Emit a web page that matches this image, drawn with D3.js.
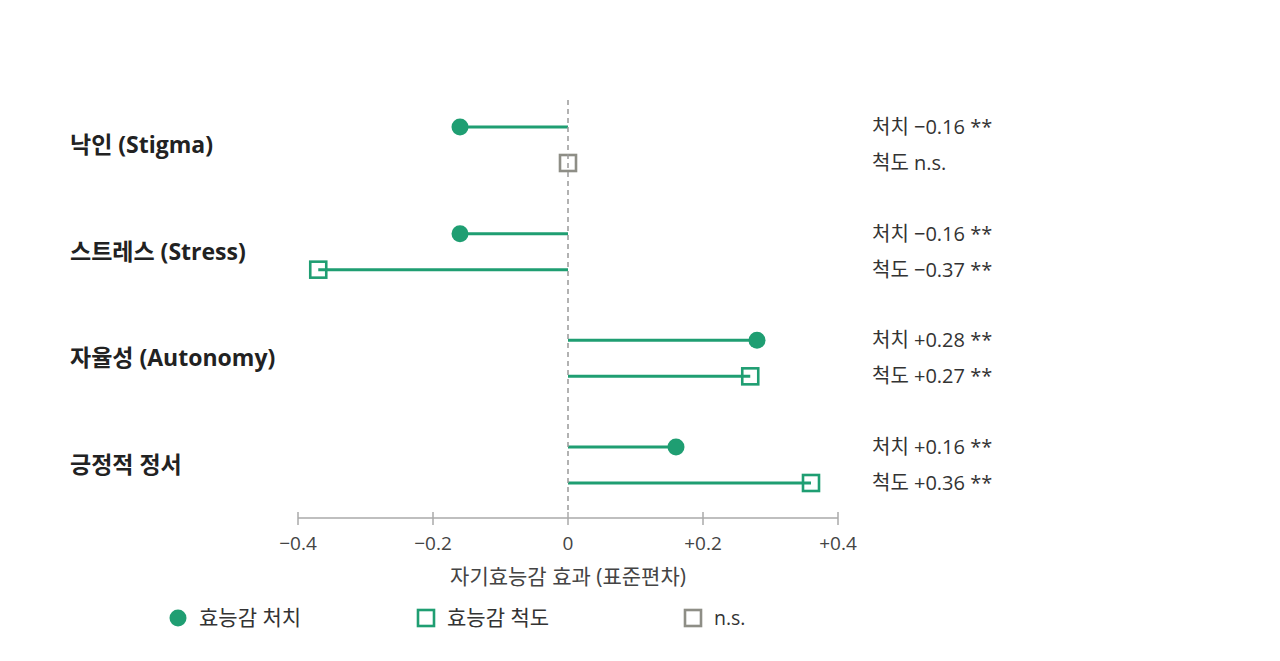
<!DOCTYPE html>
<html><head><meta charset="utf-8">
<script src="https://cdn.jsdelivr.net/npm/d3@7/dist/d3.min.js"></script>
<style>
body{margin:0;background:#fff;}
svg{display:block;font-family:"Open Sans","Noto Sans CJK KR",sans-serif;}
</style></head>
<body>
<svg id="c" width="1280" height="661"></svg>
<script>
const groups = ["낙인 (Stigma)", "스트레스 (Stress)", "자율성 (Autonomy)", "긍정적 정서"];
const treatmentValues = [-0.16, -0.16, 0.28, 0.16];
const scaleValues = [0, -0.37, 0.27, 0.36];
const scaleSignificant = [false, true, true, true];
const treatmentLabels = ["처치 −0.16 **", "처치 −0.16 **", "처치 +0.28 **", "처치 +0.16 **"];
const scaleLabels = ["척도 n.s.", "척도 −0.37 **", "척도 +0.27 **", "척도 +0.36 **"];
const tickValues = [-0.4, -0.2, 0, 0.2, 0.4];
const tickLabels = ["−0.4", "−0.2", "0", "+0.2", "+0.4"];
const axisTitle = "자기효능감 효과 (표준편차)";
const legendItems = ["효능감 처치", "효능감 척도", "n.s."];

const GREEN = "#1f9e72", GRAY = "#8e8e86";
const svg = d3.select("#c");
const x = d3.scaleLinear().domain([-0.4, 0.4]).range([298, 838]);
const y = d3.scalePoint().domain(groups).range([145, 465]);
const off = 18;

// group labels
svg.selectAll("text.g").data(groups).join("text")
  .attr("x", 70).attr("y", d => y(d)).attr("dy", "0.35em")
  .attr("font-size", 23).attr("font-weight", 700).attr("fill", "#222").text(d => d);

// axis
const axisY = 518;
svg.append("line").attr("x1", x(-0.4)).attr("x2", x(0.4)).attr("y1", axisY).attr("y2", axisY)
  .attr("stroke", "#aaa").attr("stroke-width", 1.5);
svg.selectAll("line.tk").data(tickValues).join("line")
  .attr("x1", d => x(d)).attr("x2", d => x(d)).attr("y1", axisY - 6).attr("y2", axisY + 7)
  .attr("stroke", "#aaa").attr("stroke-width", 1.5);
svg.selectAll("text.tl").data(tickValues).join("text")
  .attr("x", d => x(d)).attr("y", 550).attr("text-anchor", "middle")
  .attr("font-size", 19).attr("fill", "#444").text((d, i) => tickLabels[i]);
svg.append("text").attr("x", x(0)).attr("y", 584).attr("text-anchor", "middle")
  .attr("font-size", 21).attr("fill", "#444").text(axisTitle);

// rows
groups.forEach((g, i) => {
  const yt = y(g) - off, ys = y(g) + off;
  const sc = scaleSignificant[i] ? GREEN : GRAY;
  svg.append("rect").attr("x", x(scaleValues[i]) - 8).attr("y", ys - 8).attr("width", 16).attr("height", 16)
    .attr("fill", "#fff").attr("stroke", sc).attr("stroke-width", 2.6);
  svg.append("line").attr("x1", x(0)).attr("x2", x(treatmentValues[i])).attr("y1", yt).attr("y2", yt)
    .attr("stroke", GREEN).attr("stroke-width", 3);
  svg.append("line").attr("x1", x(0)).attr("x2", x(scaleValues[i])).attr("y1", ys).attr("y2", ys)
    .attr("stroke", sc).attr("stroke-width", 3);
  svg.append("circle").attr("cx", x(treatmentValues[i])).attr("cy", yt).attr("r", 8.5).attr("fill", GREEN);
  svg.append("text").attr("x", 872).attr("y", yt).attr("dy", "0.35em").attr("font-size", 20).attr("fill", "#333").text(treatmentLabels[i]);
  svg.append("text").attr("x", 872).attr("y", ys).attr("dy", "0.35em").attr("font-size", 20).attr("fill", "#333").text(scaleLabels[i]);
});

// zero reference line
svg.append("line").attr("x1", x(0)).attr("x2", x(0)).attr("y1", 100).attr("y2", 512)
  .attr("stroke", "#999").attr("stroke-width", 1.5).attr("stroke-dasharray", "5,4");

// legend
const ly = 618;
svg.append("circle").attr("cx", 178).attr("cy", ly).attr("r", 8.5).attr("fill", GREEN);
svg.append("text").attr("x", 199).attr("y", ly).attr("dy", "0.35em").attr("font-size", 21).attr("fill", "#333").text(legendItems[0]);
svg.append("rect").attr("x", 418).attr("y", ly - 8).attr("width", 16).attr("height", 16).attr("fill", "#fff").attr("stroke", GREEN).attr("stroke-width", 2.6);
svg.append("text").attr("x", 447).attr("y", ly).attr("dy", "0.35em").attr("font-size", 21).attr("fill", "#333").text(legendItems[1]);
svg.append("rect").attr("x", 685).attr("y", ly - 8).attr("width", 16).attr("height", 16).attr("fill", "#fff").attr("stroke", GRAY).attr("stroke-width", 2.6);
svg.append("text").attr("x", 714).attr("y", ly).attr("dy", "0.35em").attr("font-size", 19.5).attr("fill", "#333").text(legendItems[2]);
</script>
</body></html>
